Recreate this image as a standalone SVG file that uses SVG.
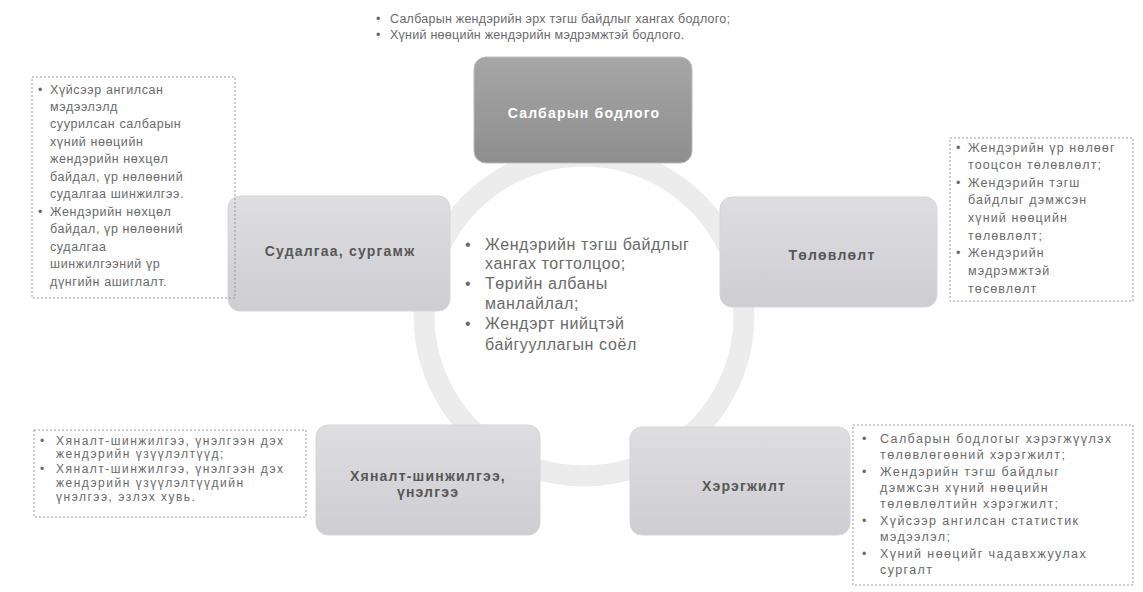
<svg xmlns="http://www.w3.org/2000/svg" width="1143" height="592" viewBox="0 0 1143 592">
<defs>
<linearGradient id="gTop" x1="0" y1="0" x2="0" y2="1"><stop offset="0" stop-color="#a6a6a6"/><stop offset="1" stop-color="#8e8e8e"/></linearGradient>
<linearGradient id="gNode" x1="0" y1="0" x2="0" y2="1"><stop offset="0" stop-color="#dedee2"/><stop offset="1" stop-color="#cdcdd2"/></linearGradient>
<style>
.t{font-family:"Liberation Sans",Arial,sans-serif;fill:#6a6a6a;}
.top{font-size:12.5px;letter-spacing:0.25px;}
.lb{font-size:12.5px;letter-spacing:0.6px;}
.rb{font-size:12.5px;letter-spacing:1.1px;}
.bl{font-size:12px;letter-spacing:1.5px;}
.br{font-size:12.5px;letter-spacing:1.4px;}
.c{font-size:16px;letter-spacing:0.6px;}
.n{font-family:"Liberation Sans",Arial,sans-serif;font-size:14px;font-weight:bold;fill:#575757;text-anchor:middle;letter-spacing:1.2px;}
.box{fill:none;stroke:#9a9a9a;stroke-width:1;stroke-dasharray:2 2;}
.node{fill:url(#gNode);stroke:#d6d6d6;stroke-width:1;}
</style>
</defs>
<rect width="1143" height="592" fill="#ffffff"/>
<g id="connectors">
<circle cx="584" cy="316" r="160" fill="none" stroke="#ececec" stroke-width="21"/>
</g>
<g id="top-notes" class="t top">
<text x="376" y="23">•</text><text x="390" y="23">Салбарын жендэрийн эрх тэгш байдлыг хангах бодлого;</text>
<text x="376" y="39">•</text><text x="390" y="39">Хүний нөөцийн жендэрийн мэдрэмжтэй бодлого.</text>
</g>
<g id="node-policy">
<rect x="474" y="57" width="218" height="106" rx="12" fill="url(#gTop)" stroke="#bbb"/>
<text x="584" y="118" class="n" style="fill:#ffffff">Салбарын бодлого</text>
</g>
<g id="node-research">
<rect class="node" x="228" y="196" width="222" height="115" rx="12"/>
<text x="340" y="256" class="n">Судалгаа, сургамж</text>
</g>
<g id="node-planning">
<rect class="node" x="720" y="197" width="217" height="110" rx="12"/>
<text x="832" y="260" class="n">Төлөвлөлт</text>
</g>
<g id="node-monitoring">
<rect class="node" x="316" y="425" width="224" height="110" rx="12"/>
<text x="428" y="481" class="n">Хяналт-шинжилгээ,</text>
<text x="428" y="497" class="n">үнэлгээ</text>
</g>
<g id="node-implementation">
<rect class="node" x="630" y="427" width="220" height="108" rx="12"/>
<text x="744" y="491" class="n">Хэрэгжилт</text>
</g>
<g id="center-notes" class="t c">
<text x="465" y="250">•</text><text x="485" y="250">Жендэрийн тэгш байдлыг</text>
<text x="485" y="269">хангах тогтолцоо;</text>
<text x="465" y="289">•</text><text x="485" y="289">Төрийн албаны</text>
<text x="485" y="309">манлайлал;</text>
<text x="465" y="329">•</text><text x="485" y="329">Жендэрт нийцтэй</text>
<text x="485" y="350">байгууллагын соёл</text>
</g>
<g id="box-research" class="t lb">
<rect class="box" x="32" y="77" width="203" height="221"/>
<text x="38" y="94">•</text><text x="50" y="94">Хүйсээр ангилсан</text>
<text x="50" y="111">мэдээлэлд</text>
<text x="50" y="128">суурилсан салбарын</text>
<text x="50" y="146">хүний нөөцийн</text>
<text x="50" y="163">жендэрийн нөхцөл</text>
<text x="50" y="181">байдал, үр нөлөөний</text>
<text x="50" y="198">судалгаа шинжилгээ.</text>
<text x="38" y="216">•</text><text x="50" y="216">Жендэрийн нөхцөл</text>
<text x="50" y="233">байдал, үр нөлөөний</text>
<text x="50" y="251">судалгаа</text>
<text x="50" y="268">шинжилгээний үр</text>
<text x="50" y="286">дүнгийн ашиглалт.</text>
</g>
<g id="box-planning" class="t rb">
<rect class="box" x="950" y="138" width="183" height="163"/>
<text x="956" y="152">•</text><text x="968" y="152">Жендэрийн үр нөлөөг</text>
<text x="968" y="169">тооцсон төлөвлөлт;</text>
<text x="956" y="187">•</text><text x="968" y="187">Жендэрийн тэгш</text>
<text x="968" y="204">байдлыг дэмжсэн</text>
<text x="968" y="222">хүний нөөцийн</text>
<text x="968" y="240">төлөвлөлт;</text>
<text x="956" y="257">•</text><text x="968" y="257">Жендэрийн</text>
<text x="968" y="275">мэдрэмжтэй</text>
<text x="968" y="293">төсөвлөлт</text>
</g>
<g id="box-monitoring" class="t bl">
<rect class="box" x="34" y="430" width="272" height="87"/>
<text x="40" y="445">•</text><text x="56" y="445">Хяналт-шинжилгээ, үнэлгээн дэх</text>
<text x="56" y="458">жендэрийн үзүүлэлтүүд;</text>
<text x="40" y="473">•</text><text x="56" y="473">Хяналт-шинжилгээ, үнэлгээн дэх</text>
<text x="56" y="487">жендэрийн үзүүлэлтүүдийн</text>
<text x="56" y="501">үнэлгээ, эзлэх хувь.</text>
</g>
<g id="box-implementation" class="t br">
<rect class="box" x="853" y="425" width="280" height="160"/>
<text x="862" y="443">•</text><text x="880" y="443">Салбарын бодлогыг хэрэгжүүлэх</text>
<text x="880" y="459">төлөвлөгөөний хэрэгжилт;</text>
<text x="862" y="476">•</text><text x="880" y="476">Жендэрийн тэгш байдлыг</text>
<text x="880" y="492">дэмжсэн хүний нөөцийн</text>
<text x="880" y="508">төлөвлөлтийн хэрэгжилт;</text>
<text x="862" y="525">•</text><text x="880" y="525">Хүйсээр ангилсан статистик</text>
<text x="880" y="541">мэдээлэл;</text>
<text x="862" y="558">•</text><text x="880" y="558">Хүний нөөцийг чадавхжуулах</text>
<text x="880" y="574">сургалт</text>
</g>
</svg>
